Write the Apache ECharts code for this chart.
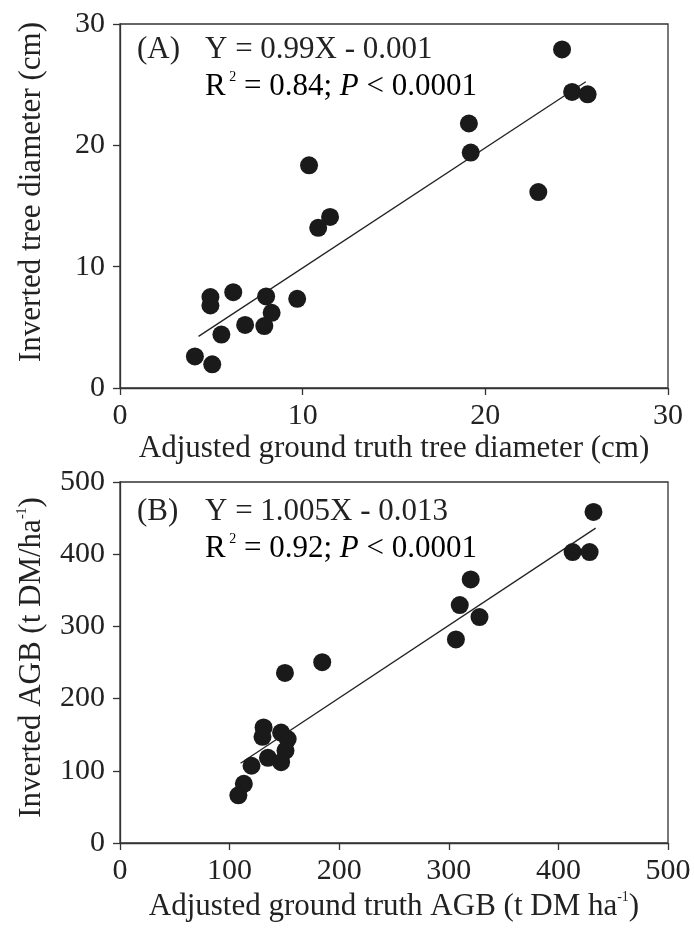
<!DOCTYPE html>
<html>
<head>
<meta charset="utf-8">
<script src="https://cdn.jsdelivr.net/npm/echarts@6/dist/echarts.min.js"></script>
<style>
  html, body { margin: 0; padding: 0; background: #ffffff; }
  #chart { width: 694px; height: 930px; }
</style>
</head>
<body>
<div id="chart"></div>
<script>
// Panel A: tree diameter (cm), ground truth vs inverted
const diameterObserved = [24.2, 24.75, 25.6, 19.1, 19.2, 10.35, 22.9, 11.5, 10.85, 4.95, 4.95, 6.2, 8.0, 9.7, 8.3, 6.85, 7.9, 5.55, 4.1, 5.05];
const diameterInverted = [27.9, 24.4, 24.2, 21.8, 19.4, 18.35, 16.15, 14.1, 13.2, 7.5, 6.8, 7.9, 7.55, 7.35, 6.2, 5.2, 5.1, 4.4, 2.6, 1.95];

// Panel B: above-ground biomass (t DM/ha), ground truth vs inverted
const agbObserved = [432, 413, 428.5, 320, 310, 328, 306.5, 184.5, 150.5, 131, 130, 147, 153, 151, 135, 147, 120, 113, 108];
const agbInverted = [458.5, 403, 403, 365, 329.5, 313, 282, 250.5, 235.5, 160, 147, 153, 144, 128, 118, 112, 107, 82, 66];

// Linear fits (panel A, panel B)
const fitSlope = [0.99, 1.005];
const fitIntercept = [-0.001, -0.013];
const fitFrom = [4.3, 110];
const fitTo = [25.5, 434];
const fitR2 = ['0.84', '0.92'];
const fitP = ['0.0001', '0.0001'];
const panelTags = ['(A)', '(B)'];

// Axis ticks
const diameterTicks = [0, 10, 20, 30];
const agbTicks = [0, 100, 200, 300, 400, 500];

const FONT = '"Liberation Serif", "Times New Roman", serif';
const INK = '#222222';
const AXIS = '#333333';

function pairs(xs, ys) { return xs.map((x, i) => [x, ys[i]]); }
function fitLine(k) {
  const f = x => fitSlope[k] * x + fitIntercept[k];
  return [[fitFrom[k], f(fitFrom[k])], [fitTo[k], f(fitTo[k])]];
}
function equation(k) {
  const b = fitIntercept[k];
  return 'Y = ' + fitSlope[k] + 'X ' + (b < 0 ? '- ' : '+ ') + Math.abs(b);
}

const textRich = {
  n: { fontFamily: FONT, fontSize: 31, color: INK, lineHeight: 34 },
  i: { fontFamily: FONT, fontSize: 31, color: INK, fontStyle: 'italic', lineHeight: 34 },
  sup: { fontFamily: FONT, fontSize: 14, color: INK, lineHeight: 19, verticalAlign: 'top' }
};

function axisCommon(ticks) {
  return {
    type: 'value',
    min: ticks[0],
    max: ticks[ticks.length - 1],
    interval: ticks[1] - ticks[0],
    splitLine: { show: false },
    axisLine: { show: true, onZero: false, lineStyle: { color: AXIS, width: 1.3 } },
    axisTick: { show: true, inside: false, length: 7, lineStyle: { color: AXIS, width: 1.3 } },
    nameLocation: 'middle'
  };
}

const xLabel = { fontFamily: FONT, fontSize: 30, color: INK, lineHeight: 30, margin: 13 };
const yLabel = { fontFamily: FONT, fontSize: 30, color: INK, margin: 15 };

const grids = [
  { left: 120, top: 24, width: 548, height: 364 },
  { left: 120, top: 482, width: 548, height: 361 }
];

const option = {
  animation: false,
  backgroundColor: '#ffffff',
  grid: grids.map(g => Object.assign({ show: true, borderColor: AXIS, borderWidth: 1.3, backgroundColor: 'transparent' }, g)),
  xAxis: [
    Object.assign(axisCommon(diameterTicks), {
      gridIndex: 0,
      name: 'Adjusted ground truth tree diameter (cm)',
      nameGap: 43,
      nameTextStyle: { fontFamily: FONT, fontSize: 31, color: INK, lineHeight: 34 },
      axisLabel: xLabel
    }),
    Object.assign(axisCommon(agbTicks), {
      gridIndex: 1,
      name: '{n|Adjusted ground truth AGB (t DM ha}{sup|-1}{n|)}',
      nameGap: 47,
      nameTextStyle: { rich: textRich },
      axisLabel: xLabel
    })
  ],
  yAxis: [
    Object.assign(axisCommon(diameterTicks), {
      gridIndex: 0,
      name: 'Inverted tree diameter (cm)',
      nameGap: 71,
      nameTextStyle: { fontFamily: FONT, fontSize: 31, color: INK, lineHeight: 34, padding: [0, 0, 0, 28] },
      axisLabel: yLabel
    }),
    Object.assign(axisCommon(agbTicks), {
      gridIndex: 1,
      name: '{n|Inverted AGB (t DM/ha}{sup|-1}{n|)}',
      nameGap: 71,
      nameTextStyle: { rich: textRich, padding: [0, 0, 0, 10] },
      axisLabel: yLabel
    })
  ],
  series: [
    {
      type: 'scatter', xAxisIndex: 0, yAxisIndex: 0,
      data: pairs(diameterObserved, diameterInverted),
      symbol: 'circle', symbolSize: 18,
      itemStyle: { color: '#1a1a1a', opacity: 1 }, z: 3
    },
    {
      type: 'line', xAxisIndex: 0, yAxisIndex: 0,
      data: fitLine(0), showSymbol: false, silent: true,
      lineStyle: { color: '#222222', width: 1.3 }, z: 2
    },
    {
      type: 'scatter', xAxisIndex: 1, yAxisIndex: 1,
      data: pairs(agbObserved, agbInverted),
      symbol: 'circle', symbolSize: 18,
      itemStyle: { color: '#1a1a1a', opacity: 1 }, z: 3
    },
    {
      type: 'line', xAxisIndex: 1, yAxisIndex: 1,
      data: fitLine(1), showSymbol: false, silent: true,
      lineStyle: { color: '#222222', width: 1.3 }, z: 2
    }
  ],
  // Panel tags and regression statistics, placed in the upper-left of each panel
  graphic: [0, 1].map(k => {
    const top = grids[k].top;
    const line1 = top + (k === 0 ? 26 : 30);
    const line2 = top + (k === 0 ? 63 : 67);
    return {
      type: 'group',
      children: [
        { type: 'text', x: 137, y: line1, style: { text: panelTags[k], font: '31px ' + FONT, fill: INK, verticalAlign: 'middle' } },
        { type: 'text', x: 205, y: line1, style: { text: equation(k), font: '31px ' + FONT, fill: INK, verticalAlign: 'middle' } },
        {
          type: 'text', x: 205, y: line2,
          style: {
            text: '{n|R}{sup| 2}{n| = ' + fitR2[k] + '; }{i|P}{n| < ' + fitP[k] + '}',
            rich: textRich,
            verticalAlign: 'middle'
          }
        }
      ]
    };
  })
};

const chart = echarts.init(document.getElementById('chart'), null, { renderer: 'canvas' });
chart.setOption(option);
</script>
</body>
</html>
